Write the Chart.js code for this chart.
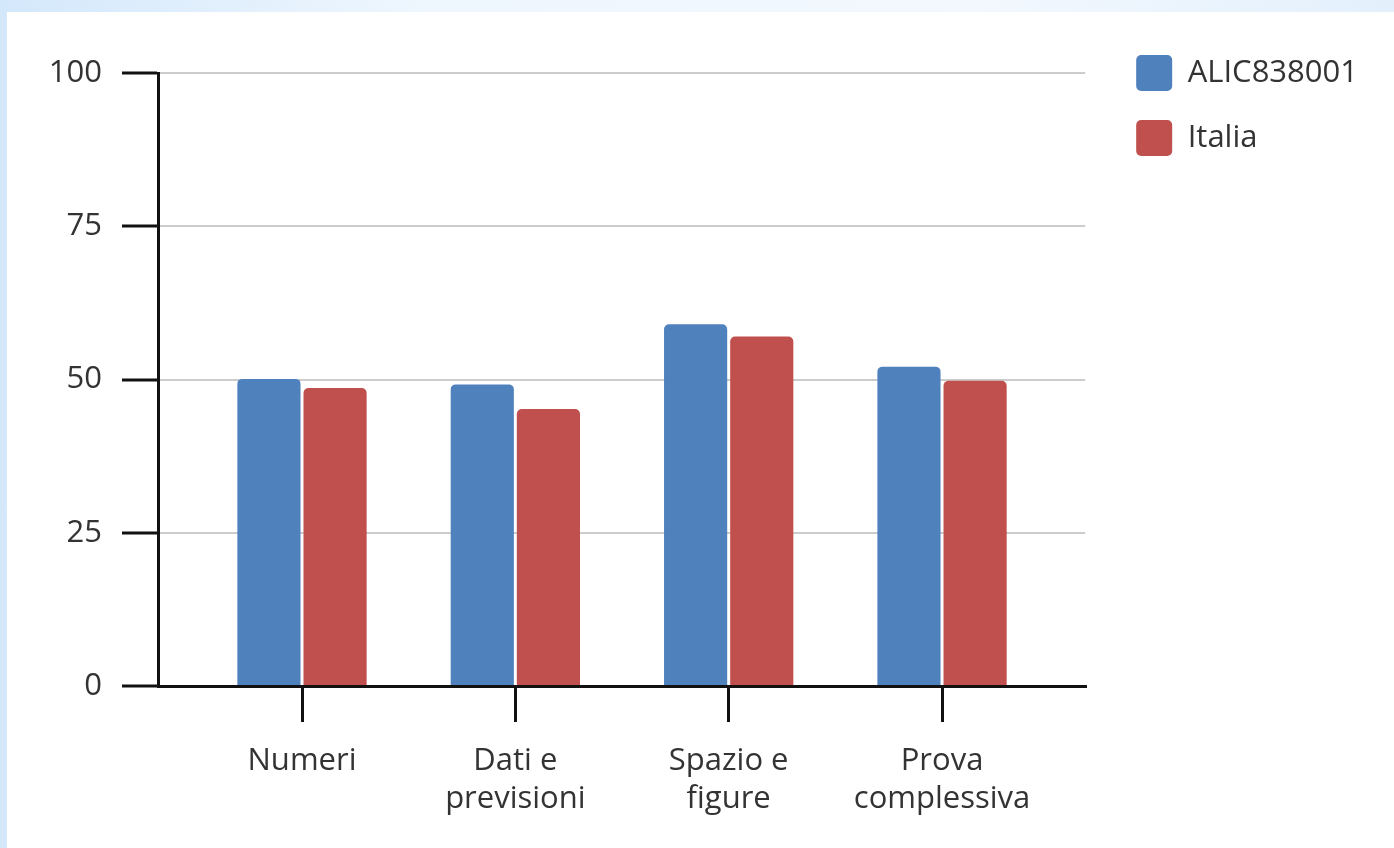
<!DOCTYPE html>
<html>
<head>
<meta charset="utf-8">
<script src="https://cdn.jsdelivr.net/npm/chart.js@4.4.1/dist/chart.umd.min.js"></script>
<style>
  html, body { margin: 0; padding: 0; }
  body {
    width: 1394px; height: 848px; overflow: hidden;
    background: linear-gradient(90deg, #d4e8fb 0%, #eef6fe 30%, #f3f8fe 70%, #e3f0fc 100%);
    position: relative;
  }
  #panel {
    position: absolute; left: 7px; top: 12px; width: 1387px; height: 836px;
    background: #ffffff;
  }
  canvas { display: block; }
</style>
</head>
<body>
<div id="panel"><canvas id="c" width="1387" height="836"></canvas></div>
<script>
// ---- data ----
const categories = [["Numeri"], ["Dati e", "previsioni"], ["Spazio e", "figure"], ["Prova", "complessiva"]];
const seriesNames = ["ALIC838001", "Italia"];
const schoolValues = [50.1, 49.2, 59.0, 52.1];
const italyValues = [48.6, 45.2, 57.0, 49.8];
const yTicks = [0, 25, 50, 75, 100];

const FONT = { family: "'Open Sans', 'Noto Sans', sans-serif", size: 31 };
const TEXT = '#333333';
const AXIS = '#111111';

const toPoints = vals => vals.map((v, i) => ({ x: i, y: v }));

// shifts the legend a little to the right of the plot (gap between plot and legend)
const legendGap = {
  id: 'legendGap',
  afterLayout(chart) {
    const lg = chart.legend;
    if (lg) { lg.left += 22; lg.right += 22; }
  }
};

new Chart(document.getElementById('c'), {
  type: 'bar',
  data: {
    datasets: [
      {
        label: seriesNames[0], data: toPoints(schoolValues),
        backgroundColor: '#4f81bd', borderRadius: { topLeft: 5, topRight: 5 }, borderSkipped: 'bottom',
        categoryPercentage: 0.62, barPercentage: 0.955
      },
      {
        label: seriesNames[1], data: toPoints(italyValues),
        backgroundColor: '#c0504d', borderRadius: { topLeft: 5, topRight: 5 }, borderSkipped: 'bottom',
        categoryPercentage: 0.62, barPercentage: 0.955
      }
    ]
  },
  plugins: [legendGap],
  options: {
    responsive: false,
    animation: false,
    layout: { padding: { top: 14, left: 0, right: 48, bottom: 0 } },
    plugins: {
      tooltip: { enabled: false },
      legend: {
        position: 'right',
        align: 'start',
        labels: {
          boxWidth: 36, boxHeight: 36, padding: 29,
          useBorderRadius: true, borderRadius: 5,
          color: TEXT, font: FONT
        }
      }
    },
    scales: {
      x: {
        type: 'linear',
        offset: false,
        min: -0.675, max: 3.671,
        afterBuildTicks: s => { s.ticks = categories.map((_, i) => ({ value: i })); },
        afterFit: s => { s.height = 162; },
        ticks: {
          color: TEXT, font: FONT, padding: 21, maxRotation: 0, autoSkip: false,
          callback: v => categories[v]
        },
        grid: { offset: false, drawOnChartArea: false, tickLength: 36, tickColor: AXIS, tickWidth: 3, lineWidth: 3 },
        border: { display: true, color: AXIS, width: 3 }
      },
      xTop: {
        type: 'linear', position: 'top', display: true,
        ticks: { display: false }, grid: { display: false }, border: { display: false },
        afterFit: s => { s.height = 47; }
      },
      y: {
        min: 0, max: 100,
        afterBuildTicks: s => { s.ticks = yTicks.map(v => ({ value: v })); },
        afterFit: s => { s.width = 151; },
        ticks: { color: TEXT, font: FONT, padding: 20 },
        grid: { color: '#cccccc', lineWidth: 2, tickLength: 36, tickColor: AXIS, tickWidth: 3 },
        border: { display: true, color: AXIS, width: 3 }
      }
    }
  }
});
</script>
</body>
</html>
